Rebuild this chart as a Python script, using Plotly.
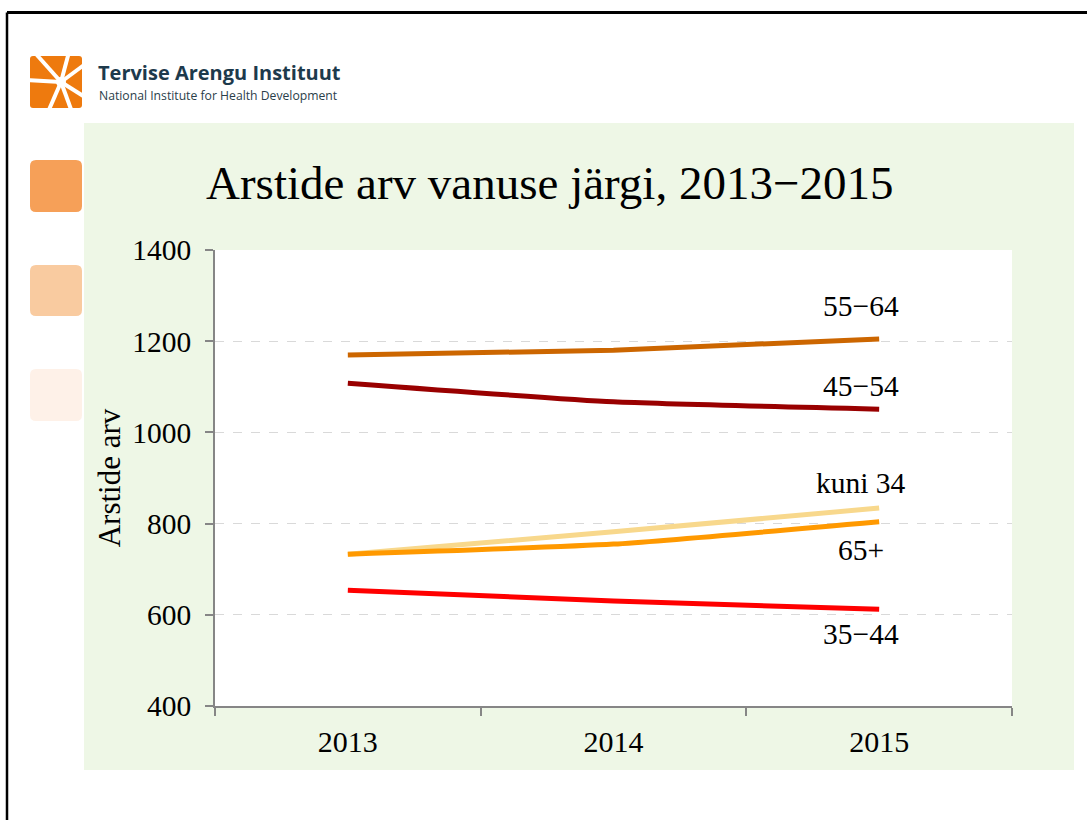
import plotly.graph_objects as go

years = [2013, 2014, 2015]
series_names = ["55−64", "45−54", "kuni 34", "65+", "35−44"]
v_55_64 = [1170, 1180, 1205]
v_45_54 = [1108, 1067, 1051]
v_kuni34 = [733, 782, 834]
v_65plus = [733, 755, 804]
v_35_44 = [654, 630, 612]
series_values = [v_55_64, v_45_54, v_kuni34, v_65plus, v_35_44]
series_colors = ["#CC6600", "#990000", "#F8D88C", "#FF9900", "#FF0000"]
label_y = [1277, 1102, 889, 742, 558]

title_text = "Arstide arv vanuse järgi, 2013−2015"
y_title = "Arstide arv"
y_ticks = [400, 600, 800, 1000, 1200, 1400]

W, H = 1087, 820
L, R, T, B = 215, 1012, 250, 706
SERIF = "Liberation Serif, Times New Roman, serif"


def X(px):
    return (px - L) / (R - L)


def Y(py):
    return (B - py) / (B - T)


def rrect(x0, y0, x1, y1, r):
    p = [
        f"M{X(x0 + r)},{Y(y0)}",
        f"L{X(x1 - r)},{Y(y0)}",
        f"Q{X(x1)},{Y(y0)} {X(x1)},{Y(y0 + r)}",
        f"L{X(x1)},{Y(y1 - r)}",
        f"Q{X(x1)},{Y(y1)} {X(x1 - r)},{Y(y1)}",
        f"L{X(x0 + r)},{Y(y1)}",
        f"Q{X(x0)},{Y(y1)} {X(x0)},{Y(y1 - r)}",
        f"L{X(x0)},{Y(y0 + r)}",
        f"Q{X(x0)},{Y(y0)} {X(x0 + r)},{Y(y0)}",
        "Z",
    ]
    return " ".join(p)


fig = go.Figure()

for name, vals, col in zip(series_names, series_values, series_colors):
    fig.add_trace(go.Scatter(
        x=years, y=vals, mode="lines", name=name,
        line=dict(color=col, width=5, shape="spline", smoothing=0.5),
        showlegend=False, hoverinfo="skip",
    ))

for name, ly in zip(series_names, label_y):
    fig.add_annotation(
        x=2015, y=ly, xref="x", yref="y", text=name, showarrow=False,
        xanchor="center", yanchor="middle", xshift=-18,
        font=dict(family=SERIF, size=29.5, color="#000000"),
    )

shapes = []
shapes.append(dict(type="rect", xref="paper", yref="paper", layer="below",
                   x0=X(84), x1=X(1074), y0=Y(770), y1=Y(123),
                   fillcolor="#EEF7E6", line=dict(width=0)))
shapes.append(dict(type="rect", xref="paper", yref="paper", layer="below",
                   x0=0, x1=1, y0=0, y1=1,
                   fillcolor="#FFFFFF", line=dict(width=0)))
shapes.append(dict(type="line", xref="paper", yref="paper",
                   x0=X(7), x1=X(1090), y0=Y(12.5), y1=Y(12.5),
                   line=dict(color="#000000", width=3)))
shapes.append(dict(type="line", xref="paper", yref="paper",
                   x0=X(7), x1=X(7), y0=Y(12.5), y1=Y(825),
                   line=dict(color="#000000", width=2.5)))
for (y0, y1, col) in [(160, 212, "#F6A058"), (265, 316, "#F9CBA0"), (369, 421, "#FEF1E8")]:
    shapes.append(dict(type="path", xref="paper", yref="paper", layer="above",
                       path=rrect(30, y0, 82, y1, 6), fillcolor=col, line=dict(width=0)))
shapes.append(dict(type="path", xref="paper", yref="paper",
                   path=rrect(30, 56, 82, 108, 3), fillcolor="#EE7A0E", line=dict(width=0)))
cx, cy = 61, 82
for ex, ey in [(36, 54), (69, 52), (88, 62), (88, 99), (72, 112), (48, 112), (26, 80)]:
    shapes.append(dict(type="line", xref="paper", yref="paper",
                       x0=X(cx), y0=Y(cy), x1=X(ex), y1=Y(ey),
                       line=dict(color="#FFFFFF", width=4)))
shapes.append(dict(type="circle", xref="paper", yref="paper",
                   x0=X(cx - 5), x1=X(cx + 5), y0=Y(cy + 5), y1=Y(cy - 5),
                   fillcolor="#FFFFFF", line=dict(width=0)))
shapes.append(dict(type="rect", xref="paper", yref="paper",
                   x0=X(82), x1=X(92), y0=Y(50), y1=Y(115),
                   fillcolor="#FFFFFF", line=dict(width=0)))
shapes.append(dict(type="rect", xref="paper", yref="paper",
                   x0=X(25), x1=X(92), y0=Y(108), y1=Y(116),
                   fillcolor="#FFFFFF", line=dict(width=0)))

annotations = [
    dict(text="<b>Tervise Arengu Instituut</b>", xref="paper", yref="paper",
         x=X(96), y=Y(72), xanchor="left", yanchor="middle", showarrow=False,
         font=dict(family="Open Sans, Noto Sans, sans-serif", size=20, color="#1D3A4C")),
    dict(text="National Institute for Health Development", xref="paper", yref="paper",
         x=X(97), y=Y(95), xanchor="left", yanchor="middle", showarrow=False,
         font=dict(family="Open Sans, Noto Sans, sans-serif", size=12.2, color="#2B3E4A")),
    dict(text=title_text, xref="paper", yref="paper",
         x=X(549), y=Y(183), xanchor="center", yanchor="middle", showarrow=False,
         font=dict(family=SERIF, size=47, color="#000000")),
]
for a in annotations:
    fig.add_annotation(**a)

fig.update_layout(
    width=W, height=H, autosize=False,
    margin=dict(l=L, r=W - R, t=T, b=H - B, pad=0),
    paper_bgcolor="#FFFFFF",
    plot_bgcolor="rgba(0,0,0,0)",
    shapes=shapes,
    showlegend=False,
    font=dict(family=SERIF, size=30, color="#000000"),
    xaxis=dict(
        type="linear", range=[2012.5, 2015.5],
        tickvals=years, ticktext=[str(y) for y in years],
        ticks="", showgrid=False, zeroline=False,
        showline=True, linecolor="#868686", linewidth=1.5,
        tickfont=dict(size=30), ticklabelstandoff=8,
        minor=dict(tickvals=[2012.5, 2013.5, 2014.5, 2015.5], ticks="outside",
                   ticklen=8, tickcolor="#868686", tickwidth=1.5, showgrid=False),
        fixedrange=True,
    ),
    yaxis=dict(
        range=[400, 1400], tickvals=y_ticks,
        ticks="outside", ticklen=8, tickcolor="#868686", tickwidth=1.5,
        showgrid=True, gridcolor="#D9D9D9", griddash="dash", gridwidth=1,
        zeroline=False, showline=True, linecolor="#868686", linewidth=1.5,
        tickfont=dict(size=29.5), ticklabelstandoff=8,
        title=dict(text=y_title, font=dict(size=31), standoff=2),
        fixedrange=True,
    ),
)

fig.write_html("out.html", config={"displayModeBar": False})

# remove the browser's default body margin so the figure sits at (0, 0)
with open("out.html", encoding="utf-8") as f:
    html = f.read()
html = html.replace("<body>", '<body style="margin:0;overflow:hidden">', 1)
with open("out.html", "w", encoding="utf-8") as f:
    f.write(html)
